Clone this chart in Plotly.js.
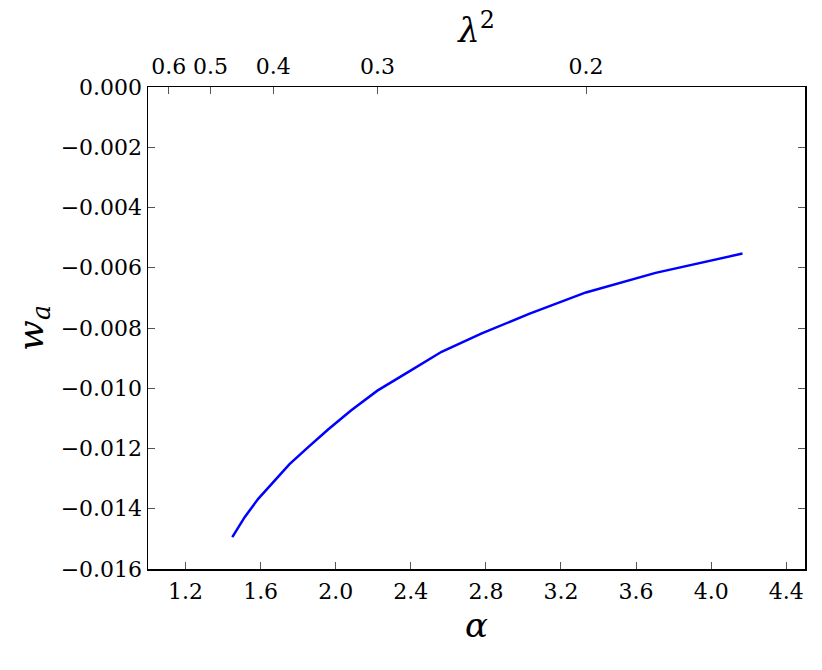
<!DOCTYPE html>
<html>
<head>
<meta charset="utf-8">
<script src="https://cdn.plot.ly/plotly-3.0.1.min.js"></script>
<style>
  html, body { margin: 0; padding: 0; background: #fff; }
  #grafica { width: 822px; height: 670px; }
</style>
</head>
<body>
<div id="grafica"></div>
<script>
const alpha = [1.449, 1.515, 1.587, 1.667, 1.754, 1.852, 1.961, 2.083,
               2.222, 2.381, 2.564, 2.778, 3.030, 3.333, 3.704, 4.167];
const wa = [-0.01494, -0.01428, -0.01367, -0.01312, -0.01252, -0.01196,
            -0.01136, -0.01073, -0.01008, -0.00948, -0.00879, -0.00818,
            -0.00753, -0.00682, -0.00617, -0.00553];

// top axis labels (lambda^2), alpha = 2 / (3 lambda^2)
const lambda2Ticks = [0.6, 0.5, 0.4, 0.3, 0.2];
const lambda2Text = ['0.6', '0.5', '0.4', '0.3', '0.2'];

function alphaDesdeLambda2(l2) {
  return 2 / (3 * l2);
}

const fuenteTicks = { family: 'DejaVu Serif', size: 22, color: '#000' };
const fuenteTitulo = { family: 'DejaVu Serif', size: 34, color: '#000' };

const curva = {
  x: alpha,
  y: wa,
  type: 'scatter',
  mode: 'lines',
  line: { color: '#0000ff', width: 2.5 },
  hoverinfo: 'skip',
  showlegend: false
};

// invisible trace so the top axis is drawn
const fantasma = {
  x: alpha,
  y: wa,
  xaxis: 'x2',
  type: 'scatter',
  mode: 'lines',
  line: { width: 0 },
  opacity: 0,
  hoverinfo: 'skip',
  showlegend: false
};

const layout = {
  width: 822,
  height: 670,
  paper_bgcolor: '#fff',
  plot_bgcolor: '#fff',
  font: { family: 'DejaVu Serif', size: 22, color: '#000' },
  margin: { l: 148, r: 17, t: 87, b: 101 },
  showlegend: false,
  xaxis: {
    range: [1.0, 4.5],
    tick0: 1.2,
    dtick: 0.4,
    tickformat: '.1f',
    tickfont: fuenteTicks,
    ticks: 'inside',
    ticklen: 7,
    tickwidth: 1,
    tickcolor: '#555',
    showgrid: false,
    zeroline: false,
    showline: true,
    linecolor: '#000',
    linewidth: 1.5,
    mirror: true,
    ticklabelstandoff: 2,
    title: { text: '<i>α</i>', font: fuenteTitulo, standoff: 10 }
  },
  xaxis2: {
    overlaying: 'x',
    side: 'top',
    range: [1.0, 4.5],
    tickmode: 'array',
    tickvals: lambda2Ticks.map(alphaDesdeLambda2),
    ticktext: lambda2Text,
    tickfont: fuenteTicks,
    ticks: 'inside',
    ticklen: 7,
    tickwidth: 1,
    tickcolor: '#555',
    showgrid: false,
    zeroline: false,
    showline: false,
    ticklabelstandoff: 8,
    title: { text: '<i>λ</i><sup>2</sup>', font: fuenteTitulo, standoff: 0 }
  },
  yaxis: {
    range: [-0.016, 0.0],
    dtick: 0.002,
    tickformat: '.3f',
    tickfont: fuenteTicks,
    ticks: 'inside',
    ticklen: 7,
    tickwidth: 1,
    tickcolor: '#555',
    showgrid: false,
    zeroline: false,
    showline: true,
    linecolor: '#000',
    linewidth: 1.5,
    mirror: 'ticks',
    title: { text: '<i>w</i><sub><i>a</i></sub>', font: { family: 'DejaVu Serif', size: 36, color: '#000' }, standoff: 6 }
  }
};

Plotly.newPlot('grafica', [curva, fantasma], layout, { displayModeBar: false, staticPlot: true });
</script>
</body>
</html>
